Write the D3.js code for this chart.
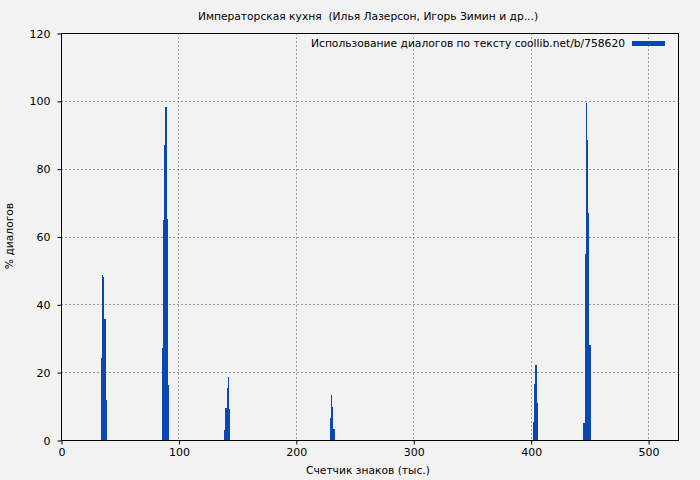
<!DOCTYPE html>
<html><head><meta charset="utf-8">
<script src="https://cdn.jsdelivr.net/npm/d3@7"></script>
<style>body{margin:0;background:#f2f2f2}svg{display:block}text{font-family:"DejaVu Sans",sans-serif;font-size:11px;fill:#000;white-space:pre}</style>
</head><body><svg id="c" width="700" height="480"></svg>
<script>
const positions = [34,35,36,37,38, 86,87,88,89,90,91, 139,140,141,142,143, 229,230,231,232, 402,403,404,405, 445,446,447,448,449,450];
const values    = [24.3,48.6,48.1,35.6,11.8, 27,65,87,98.1,65.3,16.2, 2.9,9.3,15.2,18.5,9.1, 6.6,13.3,9.8,3.2, 5.4,16.5,22.1,10.9, 5,54.7,99.5,88.4,66.8,28];
const xTicks = [0,100,200,300,400,500];
const yTicks = [0,20,40,60,80,100,120];
const title = "Императорская кухня  (Илья Лазерсон, Игорь Зимин и др...)";
const legendLabel = "Использование диалогов по тексту coollib.net/b/758620";
const xLabel = "Счетчик знаков (тыс.)";
const yLabel = "% диалогов";

const svg = d3.select("#c");
const m = {l:61,r:678,t:33,b:440};
const x = d3.scaleLinear().domain([0,525.5]).range([m.l,m.r]);
const y = d3.scaleLinear().domain([0,120]).range([m.b,m.t]);

svg.append("rect").attr("width",700).attr("height",480).attr("fill","#f2f2f2");
const g = svg.append("g");
g.selectAll(".gx").data(xTicks.filter(d=>d>0)).join("line")
 .attr("x1",d=>Math.round(x(d))+0.5).attr("x2",d=>Math.round(x(d))+0.5).attr("y1",m.t).attr("y2",m.b)
 .attr("stroke","#999").attr("stroke-dasharray","2,2");
g.selectAll(".gy").data(yTicks.filter(d=>d>0&&d<120)).join("line")
 .attr("y1",d=>Math.round(y(d))+0.5).attr("y2",d=>Math.round(y(d))+0.5).attr("x1",m.l).attr("x2",m.r)
 .attr("stroke","#999").attr("stroke-dasharray","2,2");
g.selectAll(".bar").data(positions.map((p,i)=>({p,v:values[i]}))).join("rect")
 .attr("x",d=>x(d.p)).attr("width",d=>x(d.p+1)-x(d.p))
 .attr("y",d=>y(d.v)).attr("height",d=>y(0)-y(d.v)).attr("fill","#0a47b0")
 .attr("shape-rendering","crispEdges");
svg.append("rect").attr("x",m.l+0.5).attr("y",m.t+0.5).attr("width",m.r-m.l).attr("height",m.b-m.t)
 .attr("fill","none").attr("stroke","#000");
const xa = svg.append("g").attr("transform",`translate(0.5,${m.b+0.5})`)
 .call(d3.axisBottom(x).tickValues(xTicks).tickSize(4).tickPadding(4));
const ya = svg.append("g").attr("transform",`translate(${m.l+0.5},0.5)`)
 .call(d3.axisLeft(y).tickValues(yTicks).tickSize(4).tickPadding(7));
[xa,ya].forEach(a=>{a.select(".domain").remove();a.selectAll("text").attr("font-size",11).attr("font-family","DejaVu Sans, sans-serif");a.selectAll("line").attr("stroke","#000");});
svg.append("text").attr("x",368).attr("y",20).attr("text-anchor","middle").style("font-size","10.7px").text(title);
svg.append("text").attr("x",368).attr("y",474).attr("text-anchor","middle").style("font-size","10.7px").text(xLabel);
svg.append("text").attr("transform","translate(13,236) rotate(-90)").attr("text-anchor","middle").style("font-size","10.7px").text(yLabel);
svg.append("text").attr("x",625).attr("y",47).attr("text-anchor","end").style("font-size","10.7px").text(legendLabel);
svg.append("rect").attr("x",632).attr("y",41).attr("width",33).attr("height",5).attr("fill","#0a47b0");
</script></body></html>
